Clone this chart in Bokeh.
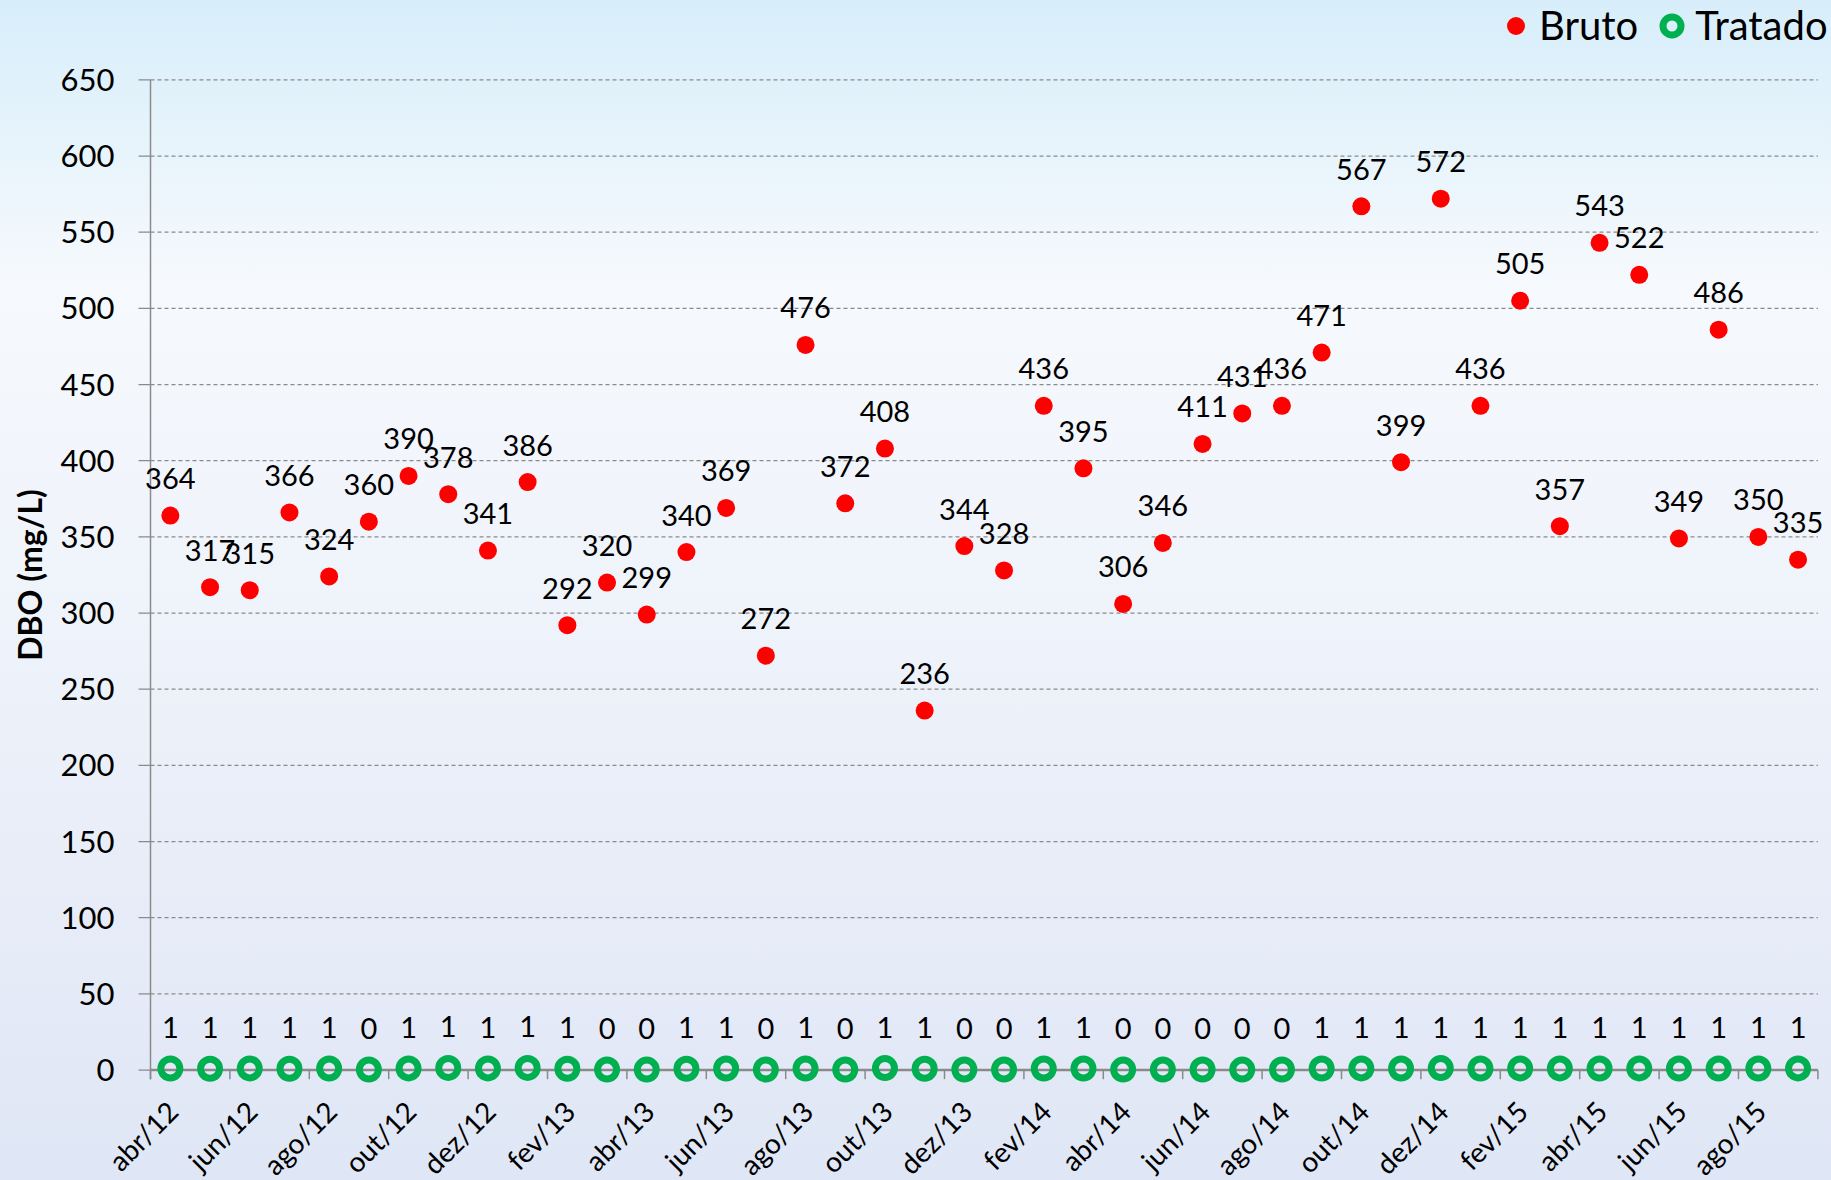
from math import pi
from bokeh.plotting import figure
from bokeh.models import (ColumnDataSource, LabelSet, Label, Legend, LegendItem, Range1d)
from bokeh.core.properties import value
from bokeh.embed import file_html
from bokeh.resources import INLINE

months = ["abr/12", "mai/12", "jun/12", "jul/12", "ago/12", "set/12", "out/12", "nov/12", "dez/12",
          "jan/13", "fev/13", "mar/13", "abr/13", "mai/13", "jun/13", "jul/13", "ago/13", "set/13",
          "out/13", "nov/13", "dez/13", "jan/14", "fev/14", "mar/14", "abr/14", "mai/14", "jun/14",
          "jul/14", "ago/14", "set/14", "out/14", "nov/14", "dez/14", "jan/15", "fev/15", "mar/15",
          "abr/15", "mai/15", "jun/15", "jul/15", "ago/15", "set/15"]

bruto = [364, 317, 315, 366, 324, 360, 390, 378, 341, 386, 292, 320, 299, 340, 369, 272, 476, 372,
         408, 236, 344, 328, 436, 395, 306, 346, 411, 431, 436, 471, 567, 399, 572, 436, 505, 357,
         543, 522, 349, 486, 350, 335]

tratado = [1.0, 0.9, 1.1, 0.9, 1.0, 0.4, 1.1, 1.4, 1.1, 1.4, 0.9, 0.4, 0.3, 0.9, 1.0, 0.4, 1.0, 0.4,
           1.3, 0.9, 0.4, 0.4, 1.0, 1.0, 0.3, 0.4, 0.4, 0.3, 0.4, 1.0, 1.1, 1.0, 1.3, 1.0, 1.1, 1.1,
           1.0, 1.1, 1.0, 1.0, 1.0, 1.1]

y_ticks = list(range(0, 651, 50))
y_title = "DBO (mg/L)"

FONT = "Lato"
GRAY = "#8a8a8a"
PX = 39.7          # pixels per month on the x scale
n = len(months)
xs = [i + 0.5 for i in range(n)]
even = list(range(0, n, 2))

src = ColumnDataSource(dict(
    x=xs, bruto=bruto, tratado=tratado,
    bl=[str(v) for v in bruto],
    tl=[str(round(v)) for v in tratado],
))
lab_src = ColumnDataSource(dict(x=[xs[i] for i in even], y=[0] * len(even),
                                t=[months[i] for i in even]))
ytk_src = ColumnDataSource(dict(x=[0] * len(y_ticks), y=y_ticks, t=[str(v) for v in y_ticks]))

# The frame covers the whole canvas; axes are drawn from the scales inside it,
# so that labels reaching left of the axis are not clipped.
p = figure(width=1831, height=1180, output_backend="svg", toolbar_location=None,
           x_axis_location=None, y_axis_location=None,
           x_range=Range1d(-150 / PX, n + 13.6 / PX), y_range=Range1d(-72.5, 702.1),
           min_border_left=0, min_border_right=0, min_border_top=0, min_border_bottom=0,
           styles={"background": "linear-gradient(to bottom, #d7eefa 0%, #f6f9fd 24%, #eef2fa 55%, #dfe6f5 100%)"})
p.border_fill_color = None
p.background_fill_color = None
p.outline_line_color = None
p.grid.grid_line_color = None

# horizontal dashed grid lines, 50..650
gy = y_ticks[1:]
p.segment(x0=[0] * len(gy), y0=gy, x1=[n] * len(gy), y1=gy,
          line_color=GRAY, line_dash="4 3", line_width=1.3)

# y axis: line, outward ticks, labels, title
p.segment(x0=[0], y0=[-6], x1=[0], y1=[y_ticks[-1]], line_color=GRAY, line_width=1.5)
p.segment(x0=[-12 / PX] * len(y_ticks), y0=y_ticks, x1=[0] * len(y_ticks), y1=y_ticks,
          line_color=GRAY, line_width=1.3)
p.add_layout(LabelSet(x="x", y="y", text="t", source=ytk_src, x_offset=-36,
                      text_align="right", text_baseline="middle",
                      text_font=value(FONT), text_font_size=value("31px"), text_color="black"))
p.add_layout(Label(x=29, x_units="screen", y=(y_ticks[0] + y_ticks[-1]) / 2, text=y_title,
                   angle=pi / 2, text_align="center", text_baseline="middle",
                   text_font=FONT, text_font_size="32px", text_font_style="bold",
                   text_color="black"))

# x axis line at zero and tick marks every second month
p.segment(x0=[0], y0=[0], x1=[n], y1=[0], line_color=GRAY, line_width=2.5)
bounds = list(range(0, n + 1, 2))
p.segment(x0=bounds, y0=[0] * len(bounds), x1=bounds, y1=[-6] * len(bounds),
          line_color=GRAY, line_width=1.5)

# month labels, rotated 45 degrees
p.add_layout(LabelSet(x="x", y="y", text="t", source=lab_src, angle=pi / 4,
                      x_offset=2, y_offset=-36, text_align="right", text_baseline="middle",
                      text_font=value(FONT), text_font_size=value("28px"), text_color="black"))

# series
r_b = p.scatter("x", "bruto", source=src, size=18, fill_color="#ff0000", line_color=None)
r_t = p.scatter("x", "tratado", source=src, size=19, fill_color=None,
                line_color="#00b050", line_width=7)

p.add_layout(LabelSet(x="x", y="bruto", text="bl", source=src, y_offset=37,
                      text_align="center", text_baseline="middle",
                      text_font=value(FONT), text_font_size=value("29px"), text_color="black"))
p.add_layout(LabelSet(x="x", y="tratado", text="tl", source=src, y_offset=41,
                      text_align="center", text_baseline="middle",
                      text_font=value(FONT), text_font_size=value("29px"), text_color="black"))

legend = Legend(items=[LegendItem(label="Bruto", renderers=[r_b]),
                       LegendItem(label="Tratado", renderers=[r_t])],
                orientation="horizontal", location=(1493, 1131),
                label_text_font=FONT, label_text_font_size="40px", label_text_color="black",
                glyph_width=45, glyph_height=45, label_standoff=1, spacing=11,
                padding=0, margin=0, border_line_color=None, background_fill_alpha=0)
p.add_layout(legend)

open("out.html", "w").write(file_html(p, INLINE))
